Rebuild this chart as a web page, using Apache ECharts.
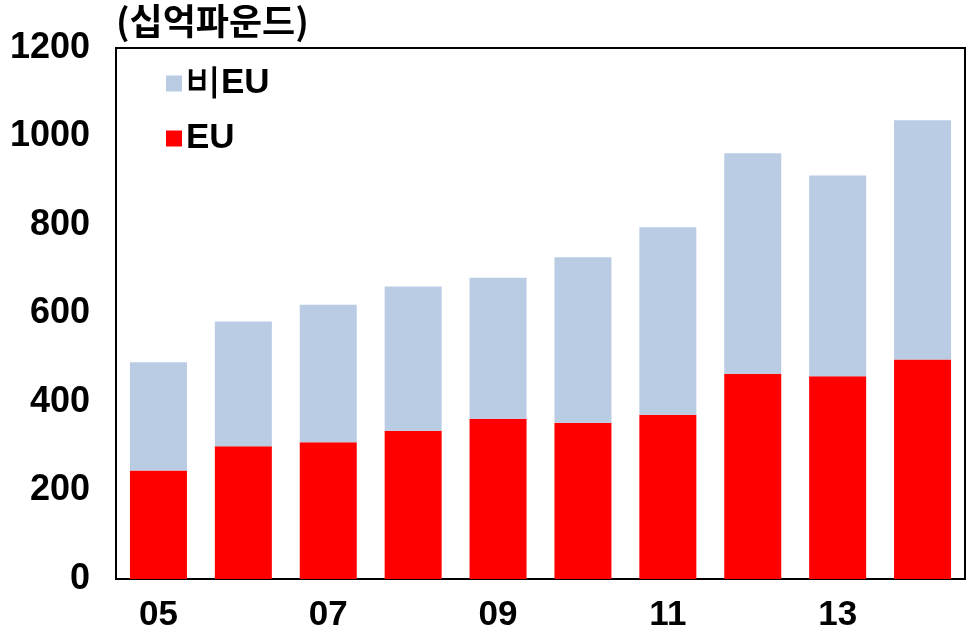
<!DOCTYPE html>
<html>
<head>
<meta charset="utf-8">
<script src="https://cdn.jsdelivr.net/npm/echarts@6/dist/echarts.min.js"></script>
<style>html,body{margin:0;padding:0;background:#fff}#c{width:974px;height:636px}</style>
</head>
<body>
<div id="c"></div>
<script>
var categories = ['05','06','07','08','09','10','11','12','13','14'];
var euValues = [245, 300, 309, 335, 362, 353, 371, 464, 458, 496];
var nonEuValues = [245, 282, 311, 326, 319, 374, 424, 498, 454, 541];
var yTicks = [0, 200, 400, 600, 800, 1000, 1200];
var unitLabel = '(십억파운드)';

var chart = echarts.init(document.getElementById('c'), null, {renderer: 'canvas'});
var fontMain = 'Liberation Sans, Arial, sans-serif';
chart.setOption({
  animation: false,
  backgroundColor: '#fff',
  graphic: [{
    type: 'text', left: 116, top: 3,
    style: {text: unitLabel, font: 'bold 36px "Noto Sans CJK KR", sans-serif', fill: '#000'}
  }],
  legend: {
    orient: 'vertical', left: 161, top: 61,
    itemWidth: 16, itemHeight: 16, itemGap: 20,
    data: ['비EU', 'EU'],
    textStyle: {fontFamily: fontMain, fontWeight: 'bold', fontSize: 35, color: '#000', padding: [0,0,0,-1]},
    icon: 'rect'
  },
  grid: {left: 116, top: 48, right: 9, bottom: 57, show: true, borderColor: '#000', borderWidth: 2, containLabel: false},
  xAxis: {
    type: 'category', data: categories,
    axisLine: {show: true, lineStyle: {color: '#000', width: 2}},
    axisTick: {show: false},
    axisLabel: {interval: 1, margin: 19, color: '#000', fontFamily: fontMain, fontWeight: 'bold', fontSize: 35}
  },
  yAxis: {
    type: 'value', min: yTicks[0], max: yTicks[yTicks.length-1], interval: 200,
    splitLine: {show: false},
    axisLine: {show: true, lineStyle: {color: '#000', width: 2}},
    axisTick: {show: false},
    axisLabel: {margin: 26, color: '#000', fontFamily: fontMain, fontWeight: 'bold', fontSize: 36,
      formatter: function (v) { return String(v); }}
  },
  series: [
    {name: 'EU', type: 'bar', stack: 'total', data: euValues, barWidth: 57, itemStyle: {color: '#ff0000'}},
    {name: '비EU', type: 'bar', stack: 'total', data: nonEuValues, barWidth: 57, itemStyle: {color: '#b9cce4'}}
  ]
});
</script>
</body>
</html>
